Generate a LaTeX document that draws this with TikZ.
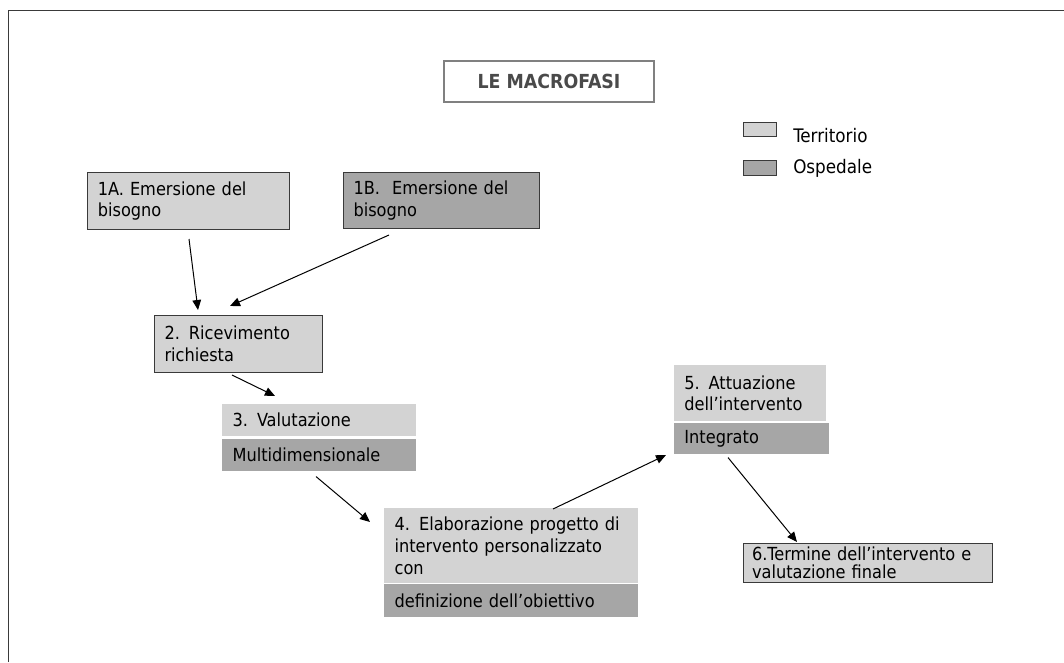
\documentclass[tikz,border=0pt]{standalone}
\usepackage{fontspec}
\setmainfont{DejaVu Sans Condensed}
\usetikzlibrary{arrows.meta}
\definecolor{terr}{HTML}{D3D3D3}
\definecolor{osp}{HTML}{A6A6A6}
\definecolor{edgegray}{HTML}{3A3A3A}
\definecolor{titleframe}{HTML}{808080}
\definecolor{titletext}{HTML}{4A4A4A}
\begin{document}
\begin{tikzpicture}[x=0.75pt,y=-0.75pt,
  phase/.style={anchor=north west, inner xsep=7pt, inner ysep=0pt, align=left,
    font=\fontsize{13.5}{16.2}\selectfont, text=black},
  sz/.style 2 args={minimum width=#1*0.75pt, minimum height=#2*0.75pt},
  terrbox/.style={phase, fill=terr},
  ospbox/.style={phase, fill=osp},
  framed/.style={draw=edgegray, line width=0.75pt},
  flow/.style={-{Triangle[length=7.5pt,width=6.5pt]}, line width=0.75pt, black},
  legendtext/.style={anchor=base west, inner sep=0pt, font=\fontsize{14}{16}\selectfont}]
\useasboundingbox (0,0) rectangle (1064,662);
\fill[white] (0,0) rectangle (1064,662);

% outer frame
\draw[edgegray, line width=0.75pt] (8,662) -- (8,10) -- (1064,10);

% title
\node[anchor=north west, sz={210}{41}, draw=titleframe, line width=1.5pt, text=titletext,
  font=\fontsize{14.5}{16}\selectfont\bfseries] (title) at (443,60) {LE MACROFASI};

% legend
\node[anchor=north west, sz={33}{14}, inner sep=0pt, fill=terr, framed] (lgterr) at (743,122) {};
\node[anchor=north west, sz={33}{15}, inner sep=0pt, fill=osp, framed] (lgosp) at (743,160) {};
\node[legendtext] (lgterrtxt) at (793,142) {Territorio};
\node[legendtext] (lgosptxt) at (793,173) {Ospedale};

% phases
\node[terrbox, framed, sz={202}{57}, text width=136pt] (n1a) at (87,172) {1A. Emersione del\\bisogno};
\node[ospbox, framed, sz={196}{56}, text width=132pt] (n1b) at (343,172) {1B.\ \ Emersione del\\bisogno};
\node[terrbox, framed, sz={168}{57}, text width=111pt] (n2) at (154,315) {2. Ricevimento\\richiesta};
\node[terrbox, sz={194}{32}, text width=130pt] (n3a) at (222,404) {3. Valutazione};
\node[ospbox, sz={194}{32}, text width=130pt] (n3b) at (222,439) {Multidimensionale};
\node[terrbox, sz={254}{75}, text width=175pt] (n4a) at (384,508) {4. Elaborazione progetto di\\intervento personalizzato\\con};
\node[ospbox, sz={254}{33}, text width=175pt] (n4b) at (384,584) {definizione dell’obiettivo};
\node[terrbox, sz={152}{56}, text width=99pt] (n5a) at (674,365) {5. Attuazione\\dell’intervento};
\node[ospbox, sz={155}{31}, text width=101pt] (n5b) at (674,423) {Integrato};
\node[terrbox, framed, sz={249}{39}, inner xsep=6pt, text width=174pt,
  font=\fontsize{13.5}{13.5}\selectfont] (n6) at (743,543) {6.Termine dell’intervento e\\valutazione finale};

% connectors
\draw[flow] ([shift={(102,9)}]n1a.south west) -- ([shift={(44,-5)}]n2.north west);
\draw[flow] ([shift={(46,6)}]n1b.south west) -- ([shift={(76,-9)}]n2.north west);
\draw[flow] ([shift={(78,2)}]n2.south west) -- ([shift={(53,-8)}]n3a.north west);
\draw[flow] ([shift={(94,5)}]n3b.south west) -- ([shift={(-14,14)}]n4a.north west);
\draw[flow] ([shift={(169,1)}]n4a.north west) -- ([shift={(-8,32)}]n5b.north west);
\draw[flow] ([shift={(54,3)}]n5b.south west) -- ([shift={(54,-1)}]n6.north west);
\end{tikzpicture}
\end{document}
